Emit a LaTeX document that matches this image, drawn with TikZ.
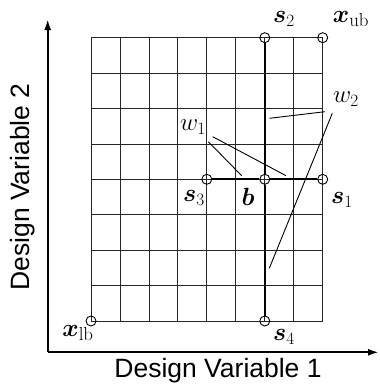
\documentclass[tikz,border=0pt]{standalone}
\usepackage{fontspec}
\usepackage{bm}
\newfontfamily\axisfont{Liberation Sans}
\usetikzlibrary{arrows.meta}
\tikzset{
  gridline/.style={line width=0.8pt,black!85},
  thickline/.style={line width=2.2pt},
  axisline/.style={line width=2pt,-{Latex[length=11pt,width=7pt]}},
  pt/.style={circle,draw,line width=0.9pt,minimum size=10pt,inner sep=0pt},
  lead/.style={line width=0.9pt},
  axislabel/.style={font=\axisfont\fontsize{26.5}{30}\selectfont,inner sep=0pt},
  mlabel/.style={font=\fontsize{27}{30}\selectfont,inner sep=0pt}
}
\begin{document}
\begin{tikzpicture}[x=1pt,y=-1pt]
\useasboundingbox (0,0) rectangle (380,386);
% grid
\foreach \i in {0,...,8} {
  \draw[gridline] ({91+\i*28.96},37.7) -- ({91+\i*28.96},321);
  \draw[gridline] (91,{37.7+\i*35.41}) -- (322.7,{37.7+\i*35.41});
}
% axes
\coordinate (O) at (47.7,352.3);
\coordinate (yend) at (47.7,19);
\coordinate (xend) at (379,352.3);
\draw[axisline] (O) -- (yend);
\draw[axisline] (O) -- (xend);
% points
\node[pt] (xlb) at (91,321) {};
\node[pt] (xub) at (322.7,37.7) {};
\node[pt] (s2) at (264.8,37.7) {};
\node[pt] (s4) at (264.8,321) {};
\node[pt] (s3) at (206.8,179.3) {};
\node[pt] (s1) at (322.7,179.3) {};
\node[pt] (b) at (264.8,179.3) {};
\draw[thickline] (s2) -- (b) -- (s4);
\draw[thickline] (s3) -- (b) -- (s1);
% labels
\node[mlabel] (ls2) at (284,19) {$\bm{s}_2$};
\node[mlabel] (lxub) at (351,19) {$\bm{x}_{\mathrm{ub}}$};
\node[mlabel] (lw2) at (346,99) {$w_2$};
\node[mlabel] (lw1) at (193,127) {$w_1$};
\node[mlabel] (ls3) at (194,198) {$\bm{s}_3$};
\node[mlabel] (lb) at (248,197) {$\bm{b}$};
\node[mlabel] (ls1) at (342,200) {$\bm{s}_1$};
\node[mlabel] (ls4) at (284,337) {$\bm{s}_4$};
\node[mlabel] (lxlb) at (78,333) {$\bm{x}_{\mathrm{lb}}$};
% leaders
\coordinate (w2a) at (325,111.7);
\coordinate (w2b) at (332.3,113.3);
\coordinate (w1a) at (208.3,141.7);
\coordinate (w1b) at (212.7,136.7);
\coordinate (t1) at (269.3,118.3);
\coordinate (t2) at (269.3,268.3);
\coordinate (t3) at (241.7,175.7);
\coordinate (t4) at (286,175.7);
\draw[lead] (w2a) -- (t1);
\draw[lead] (w2b) -- (t2);
\draw[lead] (w1a) -- (t3);
\draw[lead] (w1b) -- (t4);
% axis labels
\node[axislabel] (lx) at (218,371) {Design Variable 1};
\node[axislabel,rotate=90] (ly) at (23,187) {Design Variable 2};
\end{tikzpicture}
\end{document}
